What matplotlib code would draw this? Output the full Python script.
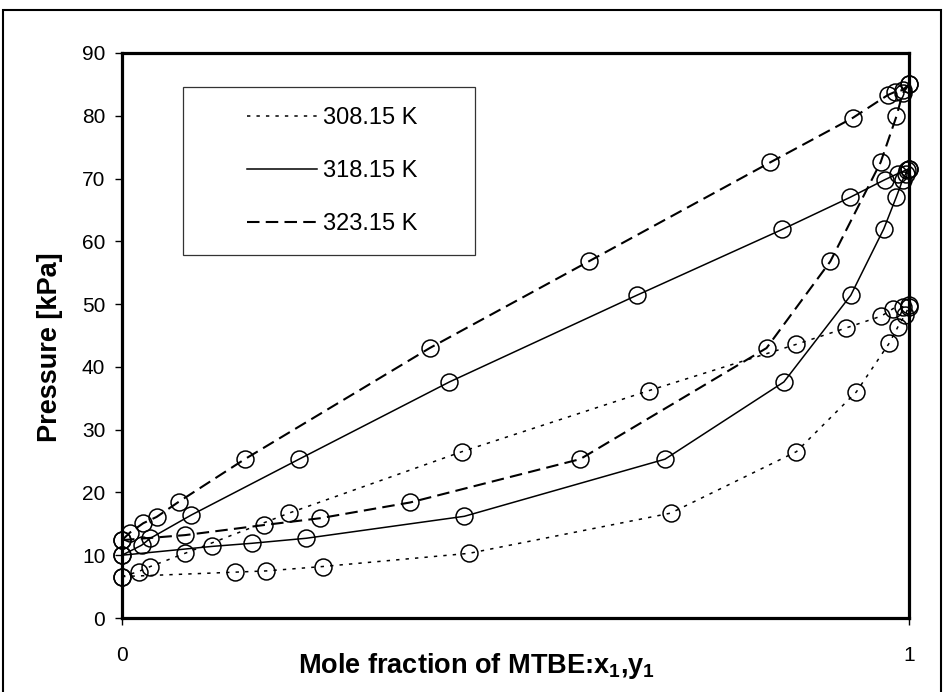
import matplotlib
matplotlib.use("Agg")
import matplotlib.pyplot as plt
from matplotlib.patches import Rectangle
from matplotlib.lines import Line2D

plt.rcParams['font.family'] = ['Liberation Sans', 'DejaVu Sans']
plt.rcParams['mathtext.fontset'] = 'custom'
plt.rcParams['mathtext.rm'] = 'Liberation Sans'
plt.rcParams['mathtext.bf'] = 'Liberation Sans:bold'

# ---- data ----
temps = ["308.15 K", "318.15 K", "323.15 K"]

x_308 = [0.000, 0.143, 0.183, 0.255, 0.441, 0.697, 0.857, 0.933, 0.975, 0.986, 0.995, 1.000]
P_x_308 = [6.6, 7.3, 7.5, 8.2, 10.3, 16.7, 26.5, 36.0, 43.8, 46.4, 48.3, 49.6]
y_308 = [0.000, 0.021, 0.036, 0.080, 0.212, 0.432, 0.669, 0.857, 0.920, 0.965, 0.980, 0.992, 1.000]
P_y_308 = [6.6, 7.4, 8.2, 10.3, 16.7, 26.5, 36.2, 43.6, 46.2, 48.1, 49.3, 49.6, 49.8]

x_318 = [0.000, 0.114, 0.165, 0.234, 0.435, 0.690, 0.841, 0.926, 0.968, 0.984, 0.992, 0.996, 1.000]
P_x_318 = [10.0, 11.4, 11.9, 12.7, 16.2, 25.3, 37.6, 51.4, 62.0, 67.1, 69.8, 70.8, 71.6]
y_318 = [0.000, 0.025, 0.036, 0.088, 0.225, 0.416, 0.654, 0.839, 0.925, 0.969, 0.986, 0.997, 1.000]
P_y_318 = [10.0, 11.6, 12.7, 16.4, 25.3, 37.6, 51.4, 61.9, 67.0, 69.8, 70.8, 71.4, 71.6]

x_323 = [0.000, 0.080, 0.180, 0.252, 0.366, 0.582, 0.819, 0.900, 0.964, 0.984, 0.992, 1.000]
P_x_323 = [12.4, 13.2, 14.8, 15.9, 18.4, 25.3, 43.0, 56.8, 72.6, 79.9, 83.6, 85.0]
y_323 = [0.000, 0.010, 0.027, 0.044, 0.072, 0.156, 0.391, 0.593, 0.824, 0.929, 0.973, 0.982, 0.992, 1.000]
P_y_323 = [12.4, 13.6, 15.1, 16.1, 18.5, 25.3, 43.0, 56.8, 72.6, 79.7, 83.3, 83.8, 84.1, 85.0]

y_ticks = [0, 10, 20, 30, 40, 50, 60, 70, 80, 90]
x_ticks = [0, 1]

# ---- styles ----
styles = [
    dict(color='black', lw=1.1, linestyle=(0, (2.2, 4.0))),
    dict(color='black', lw=1.1, linestyle='-'),
    dict(color='black', lw=1.5, linestyle=(0, (6, 3))),
]
series = [
    ((x_308, P_x_308), (y_308, P_y_308)),
    ((x_318, P_x_318), (y_318, P_y_318)),
    ((x_323, P_x_323), (y_323, P_y_323)),
]

fig = plt.figure(figsize=(9.45, 6.92), dpi=100)
ax = fig.add_axes([122/945, (692-618)/692, 787/945, 565/692])

for (bub, dew), st in zip(series, styles):
    for xs, ps in (bub, dew):
        ax.plot(xs, ps, **st, zorder=2)
        ax.plot(xs, ps, linestyle='none', marker='o', markersize=12.2,
                markerfacecolor='none', markeredgecolor='black',
                markeredgewidth=1.1, zorder=3, clip_on=False)

ax.set_xlim(0, 1)
ax.set_ylim(0, 90)
ax.set_xticks(x_ticks)
ax.set_xticklabels([str(t) for t in x_ticks])
ax.set_yticks(y_ticks)
ax.tick_params(axis='y', direction='out', length=5, width=1, pad=7, labelsize=15)
ax.tick_params(axis='x', direction='out', length=5, width=1, pad=15, labelsize=15)
for s in ax.spines.values():
    s.set_linewidth(2.3)
    s.set_color('black')

ax.set_xlabel(r'Mole fraction of MTBE:x$_\mathbf{1}$,y$_\mathbf{1}$', fontsize=19.5,
              fontweight='bold')
ax.xaxis.set_label_coords(0.451, -0.058)
ax.set_ylabel('Pressure [kPa]', fontsize=19.5, fontweight='bold')
ax.yaxis.set_label_coords(-0.075, 0.48)

# legend
handles = [Line2D([], [], **st) for st in styles]
ax.add_patch(Rectangle(((183-122)/787, (618-255)/565), 292/787, 168/565,
                       transform=ax.transAxes, fill=True, facecolor='white',
                       edgecolor='#333333', lw=0.9, zorder=4))
leg = ax.legend(handles, temps, loc='center', bbox_to_anchor=(0.2675, 0.791),
                frameon=False, fontsize=17, handlelength=2.97,
                handletextpad=0.25, labelspacing=1.3)
leg.set_zorder(5)

# outer border
fig.add_artist(Rectangle((3/945, -0.05), (941-3)/945, 1 - 10/692 + 0.05,
                         transform=fig.transFigure, fill=False, lw=1.5,
                         edgecolor='black'))

fig.savefig('out.png', dpi=100)
